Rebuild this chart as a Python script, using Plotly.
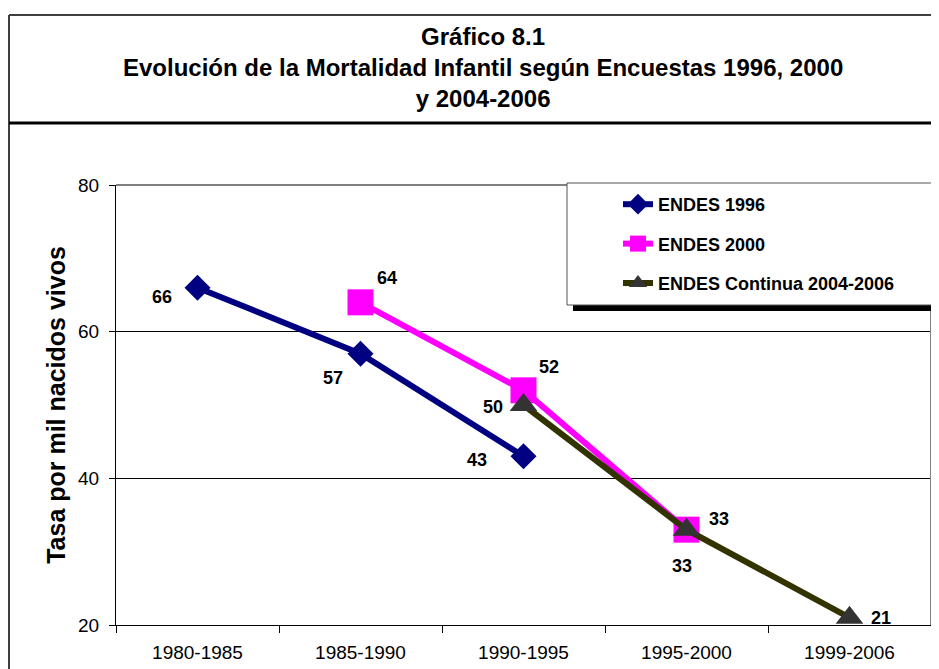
import plotly.graph_objects as go

# ---------------- data ----------------
categories = ["1980-1985", "1985-1990", "1990-1995", "1995-2000", "1999-2006"]
endes_1996 = [66, 57, 43, None, None]
endes_2000 = [None, 64, 52, 33, None]
endes_continua = [None, None, 50, 33, 21]
series_names = ["ENDES 1996", "ENDES 2000", "ENDES Continua 2004-2006"]
y_ticks = [20, 40, 60, 80]

title_lines = ["Gráfico 8.1",
               "Evolución de la Mortalidad Infantil según Encuestas 1996, 2000",
               "y 2004-2006"]
y_title = "Tasa por mil nacidos vivos"

# ---------------- styles ----------------
FONT = "Arial, 'Liberation Sans', sans-serif"
OFF = 8                      # page body margin
W, H = 939 - OFF, 669 - OFF  # figure size
# plot area in screen px: x 116..931, y 185..625
L = 116 - OFF
T = 185 - OFF
R = W - (931 - OFF)
B = H - (625 - OFF)
PW, PH = W - L - R, H - T - B


def px_x(px):
    return (px - OFF - L) / PW


def px_y(py):
    return (H - B - (py - OFF)) / PH


line_colors = ["#000080", "#FF00FF", "#333300"]
marker_colors = ["#000080", "#FF00FF", "#333333"]
symbols = ["diamond", "square", "triangle-up"]
sizes = [20, 26, 24]
# label offsets in pixels (dx, dy downward)
label_offsets = [
    [(-36, 9), (-28, 24), (-47, 4), None, None],
    [None, (26, -24), (25, -23), (32, -11), None],
    [None, None, (-31, 2), (-5, 36), (31, 0)],
]

fig = go.Figure()
all_series = [endes_1996, endes_2000, endes_continua]
for i, (name, vals) in enumerate(zip(series_names, all_series)):
    fig.add_trace(go.Scatter(
        x=categories, y=vals, name=name, mode="lines+markers",
        legendgroup=name,
        line=dict(color=line_colors[i], width=6),
        marker=dict(symbol=symbols[i], size=sizes[i], color=marker_colors[i],
                    line=dict(width=0)),
        connectgaps=False,
    ))

annotations = []
for i, vals in enumerate(all_series):
    for j, v in enumerate(vals):
        if v is None:
            continue
        dx, dy = label_offsets[i][j]
        annotations.append(dict(
            x=categories[j], y=v, xref="x", yref="y", text=f"<b>{v}</b>",
            showarrow=False, xshift=dx, yshift=-dy,
            font=dict(family=FONT, size=18, color="black"),
        ))

annotations.append(dict(
    x=px_x(483), y=px_y(67), xref="paper", yref="paper",
    text="<br>".join(f"<b>{t}</b>" for t in title_lines),
    showarrow=False, xanchor="center", yanchor="middle", align="center",
    font=dict(family=FONT, size=24, color="black"),
))

shapes = [
    # outer frame
    dict(type="line", xref="paper", yref="paper", x0=px_x(9), x1=px_x(945),
         y0=px_y(15), y1=px_y(15), line=dict(color="#404040", width=2)),
    dict(type="line", xref="paper", yref="paper", x0=px_x(9), x1=px_x(9),
         y0=px_y(15), y1=px_y(680), line=dict(color="#404040", width=2)),
    dict(type="line", xref="paper", yref="paper", x0=px_x(9), x1=px_x(945),
         y0=px_y(123), y1=px_y(123), line=dict(color="black", width=3)),
    # plot area top/right border (gray)
    dict(type="line", xref="paper", yref="paper", x0=0, x1=1, y0=1, y1=1,
         line=dict(color="#808080", width=2), layer="above"),
    dict(type="line", xref="paper", yref="paper", x0=1, x1=1, y0=0, y1=1,
         line=dict(color="#808080", width=2), layer="above"),
    # legend shadow and box
    dict(type="rect", xref="paper", yref="paper", x0=px_x(573), x1=px_x(938),
         y0=px_y(189), y1=px_y(311), fillcolor="black", line=dict(width=0),
         layer="above"),
    dict(type="rect", xref="paper", yref="paper", x0=px_x(567), x1=px_x(932),
         y0=px_y(183), y1=px_y(305), fillcolor="white",
         line=dict(color="#555555", width=1), layer="above"),
]

fig.update_layout(
    width=W, height=H,
    margin=dict(l=L, r=R, t=T, b=B, autoexpand=False),
    paper_bgcolor="white", plot_bgcolor="white",
    font=dict(family=FONT, color="black"),
    showlegend=True,
    legend=dict(
        x=px_x(618), y=px_y(186), xanchor="left", yanchor="top",
        bgcolor="rgba(0,0,0,0)", borderwidth=0,
        font=dict(family=FONT, size=18, color="black", weight="bold"),
        tracegroupgap=13, itemwidth=30,
    ),
    annotations=annotations,
    shapes=shapes,
)

fig.update_xaxes(
    type="category", categoryorder="array", categoryarray=categories,
    range=[-0.5, 4.5], showgrid=False, showline=True, linecolor="black",
    linewidth=1, ticks="outside", tickson="boundaries", ticklen=7,
    tickcolor="black", tickfont=dict(family=FONT, size=19, color="black"),
    ticklabelstandoff=10,
    fixedrange=True, zeroline=False,
)
fig.update_yaxes(
    range=[20, 80], tickvals=y_ticks, showgrid=True, gridcolor="black",
    gridwidth=1, showline=True, linecolor="black", linewidth=1,
    ticks="outside", ticklen=6, tickcolor="black", zeroline=False,
    tickfont=dict(family=FONT, size=19, color="black"),
    ticklabelstandoff=6,
    title=dict(text=f"<b>{y_title}</b>", standoff=5,
               font=dict(family=FONT, size=25, color="black")),
    fixedrange=True,
)

fig.write_html("out.html")
